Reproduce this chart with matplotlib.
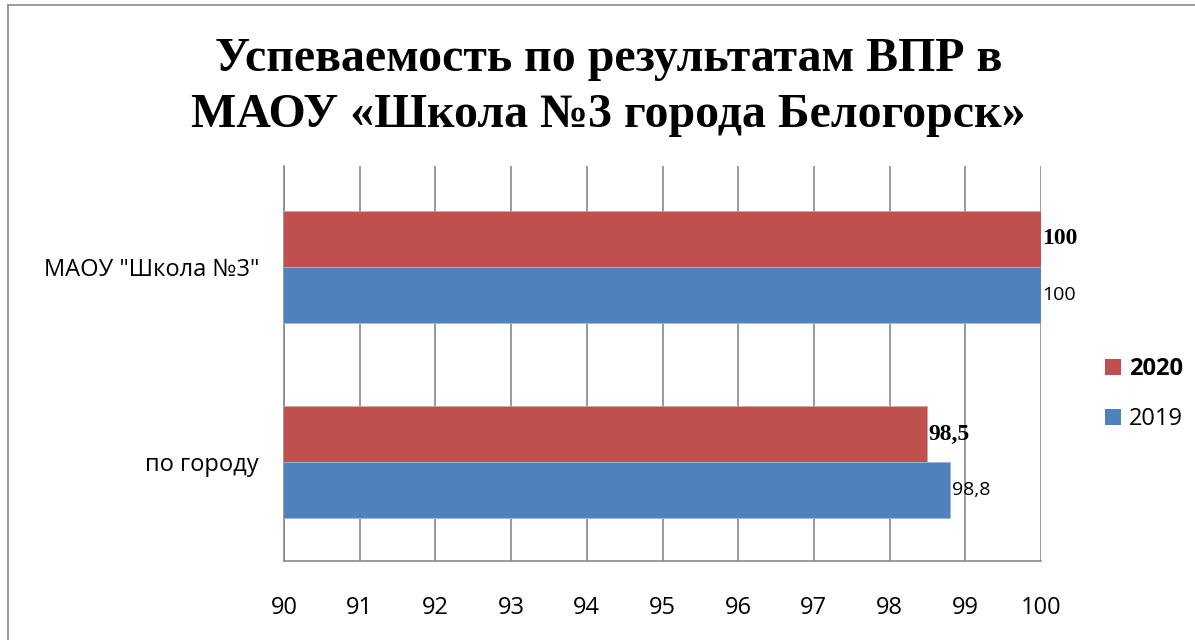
import matplotlib.pyplot as plt
from matplotlib.lines import Line2D
from matplotlib.patches import Patch

categories = ['по городу', 'МАОУ "Школа №3"']
values_2020 = [98.5, 100]
values_2019 = [98.8, 100]
ticks = list(range(90, 101))

red = '#C0504D'
blue = '#4F81BD'
grid_color = '#898989'
sans = ['Open Sans', 'DejaVu Sans']
serif = ['Liberation Serif', 'DejaVu Serif']


def fmt(v):
    return '{:g}'.format(v).replace('.', ',')


fig = plt.figure(figsize=(11.95, 6.4), dpi=100)
ax = fig.add_axes([284 / 1195, 1 - 561 / 640, (1041 - 284) / 1195, (561 - 166) / 640])

h = 0.2857
ypos = list(range(len(categories)))
ax.barh([y + h / 2 for y in ypos], values_2020, height=h,
        color=red, edgecolor='#D9A09E', linewidth=0.6, zorder=3)
ax.barh([y - h / 2 for y in ypos], values_2019, height=h,
        color=blue, edgecolor='#9DB8DA', linewidth=0.6, zorder=3)

for y, v in zip(ypos, values_2020):
    ax.annotate(fmt(v), (v, y + h / 2), xytext=(0.5, 0), textcoords='offset points',
                va='center', ha='left', family=serif, fontweight='bold', fontsize=17)
for y, v in zip(ypos, values_2019):
    ax.annotate(fmt(v), (v, y - h / 2), xytext=(1, 0), textcoords='offset points',
                va='center', ha='left', family=sans, fontsize=14)

ax.set_xlim(90, 100)
ax.set_ylim(-0.505, 1.515)
ax.set_xticks(ticks)
ax.set_xticklabels([str(t) for t in ticks], family=sans, fontsize=17)
ax.set_yticks(ypos)
ax.set_yticklabels(categories, family=sans, fontsize=17)
ax.tick_params(axis='x', length=0, pad=25.5)
ax.tick_params(axis='y', length=0, pad=18)
ax.grid(axis='x', color=grid_color, linewidth=1.2, zorder=0)
ax.set_axisbelow(True)
for s in ['top', 'right']:
    ax.spines[s].set_visible(False)
for s in ['left', 'bottom']:
    ax.spines[s].set_color(grid_color)
    ax.spines[s].set_linewidth(1.2)

handles = [Patch(facecolor=red), Patch(facecolor=blue)]
leg = fig.legend(handles, ['2020', '2019'], loc='center left',
                 bbox_to_anchor=(1084 / 1195, 1 - 394 / 640), frameon=False,
                 handlelength=0.65, handleheight=0.65, handletextpad=0.35,
                 labelspacing=1.1, prop={'family': sans, 'size': 17})
leg.get_texts()[0].set_fontweight('bold')

fig.text(0.509, 1 - 87 / 640, 'Успеваемость по результатам ВПР в\nМАОУ «Школа №3 города Белогорск»',
         ha='center', va='center', family=serif, fontweight='bold', fontsize=34.5,
         linespacing=1.35)

# frame of the chart object
fig.add_artist(Line2D([7.5 / 1195, 1], [1 - 4.5 / 640, 1 - 4.5 / 640],
                      color='#8a8a8a', linewidth=1.2))
fig.add_artist(Line2D([7.5 / 1195, 7.5 / 1195], [0, 1 - 4.5 / 640],
                      color='#8a8a8a', linewidth=1.2))

fig.savefig('out.png', dpi=100)
